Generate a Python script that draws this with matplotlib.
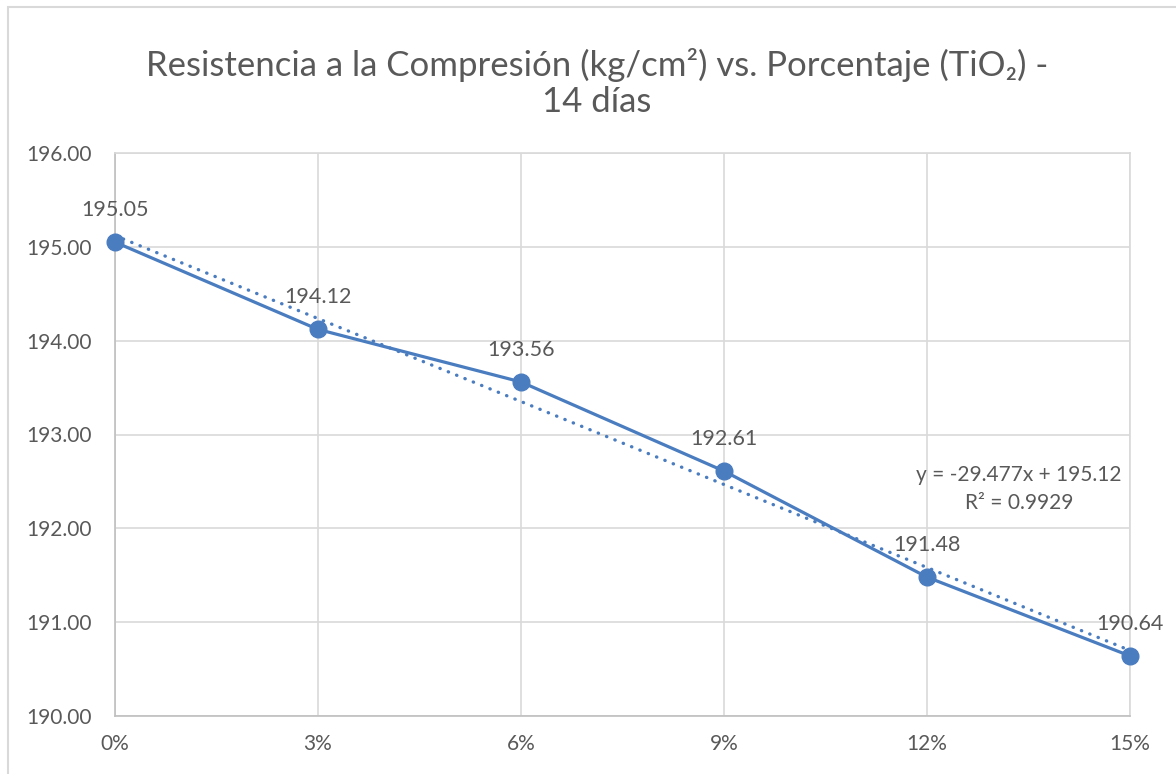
import numpy as np
import matplotlib
matplotlib.use("Agg")
from matplotlib import pyplot as plt
from matplotlib.patches import Rectangle
from matplotlib.ticker import FuncFormatter

plt.rcParams['font.family'] = ['Lato', 'DejaVu Sans']

# TiO2 content (fraction) and 14-day compressive strength
porcentaje = [0.00, 0.03, 0.06, 0.09, 0.12, 0.15]
resistencia = [195.05, 194.12, 193.56, 192.61, 191.48, 190.64]
y_ticks = [190, 191, 192, 193, 194, 195, 196]

# linear trendline as reported
pendiente = -29.477
intercepto = 195.12
r2 = 0.9929

blue = '#4A7CC0'
grid = '#D9D9D9'
txt = '#595959'

fig = plt.figure(figsize=(11.76, 7.74), dpi=100)
ax = fig.add_axes([115 / 1176, 1 - 716 / 774, 1015 / 1176, 563 / 774])

# chart frame
fig.patches.append(Rectangle((8 / 1176, -0.1), 1.2, 1 - 7 / 774 + 0.1,
                             transform=fig.transFigure, fill=False,
                             edgecolor=grid, linewidth=1.5))

ax.plot(porcentaje, resistencia, color=blue, linewidth=2.3, marker='o',
        markersize=12, zorder=4, clip_on=False)

xt = np.array([porcentaje[0], porcentaje[-1]])
ax.plot(xt, pendiente * xt + intercepto, color=blue, linewidth=2.4,
        linestyle=(0, (0.1, 2.6)), dash_capstyle='round', zorder=3, clip_on=False)

ax.text(0.1336, 192.42, f"y = {pendiente:.3f}x + {intercepto:.2f}\nR² = {r2:.4f}",
        ha='center', va='center', fontsize=15, color=txt, linespacing=1.5)

for xv, yv in zip(porcentaje, resistencia):
    ax.annotate(f"{yv:.2f}", (xv, yv), xytext=(0, 23), textcoords='offset points',
                ha='center', va='center', fontsize=15.5, color=txt, zorder=5)

ax.set_xlim(0, 0.15)
ax.set_ylim(190, 196)
ax.set_xticks(porcentaje)
ax.set_yticks(y_ticks)
ax.xaxis.set_major_formatter(FuncFormatter(lambda v, p: f"{v * 100:.0f}%"))
ax.yaxis.set_major_formatter(FuncFormatter(lambda v, p: f"{v:.2f}"))
ax.tick_params(length=0, labelsize=15, labelcolor=txt)
ax.tick_params(axis='x', pad=13)
ax.tick_params(axis='y', pad=17)
ax.grid(True, color=grid, linewidth=1.2)
ax.set_axisbelow(True)
for s in ax.spines.values():
    s.set_color(grid)
    s.set_linewidth(1.2)
ax.spines['left'].set_color('#BFBFBF')
ax.spines['bottom'].set_color('#BFBFBF')

fig.text(597 / 1176, 1 - 83 / 774,
         "Resistencia a la Compresión (kg/cm²) vs. Porcentaje (TiO₂) -\n14 días",
         ha='center', va='center', fontsize=25, color=txt, linespacing=1.15)

fig.savefig('out.png', dpi=100)
